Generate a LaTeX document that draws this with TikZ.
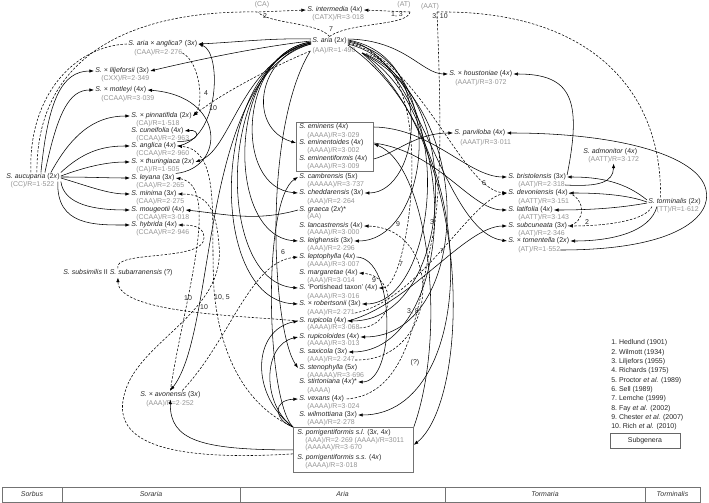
\documentclass[tikz,border=0pt]{standalone}
\usepackage{fontspec}
\setmainfont{Liberation Sans}
\usetikzlibrary{arrows.meta}
\newcommand{\plx}[1]{(#1\textit{x})}
\begin{document}
\begin{tikzpicture}[x=1bp,y=-1bp,>={Latex[length=4.6bp,width=3.4bp]},
  font=\fontsize{7}{8}\selectfont,line width=0.55bp,
  sp/.style={anchor=west,inner sep=1bp,text=black!85},
  sb/.style={anchor=west,inner sep=0pt,text=black!42},
  nb/.style={inner sep=0.5bp,text=black!85},
  gl/.style={inner sep=0.5bp,text=black!42},
  grp/.style={draw=black!55,line width=0.8bp,inner sep=0pt,anchor=north west},
  dsh/.style={dash pattern=on 2.4bp off 1.6bp}]
\useasboundingbox (0,0) rectangle (709,503);
% junctions
\coordinate (ca) at (258,12);
\coordinate (at) at (410,12);
\coordinate (aat) at (437,12);
\coordinate (ar) at (362,53);
% top
\node[sp] (int) at (306,10) {\textit{S. intermedia} \plx{4}};
\node[sb] (int-r) at (312,18) {(CATX)/R=3·018};
\node[sp] (ari) at (311,41) {\textit{S. aria} \plx{2}};
\node[sb,anchor=center] (ari-r) at (334,51) {(AA)/R=1·490};
% Soraria
\node[sp] (aan) at (127,44) {\textit{S. aria × anglica?} \plx{3}};
\node[sb] (aan-r) at (134,53) {(CAA)/R=2·276};
\node[sp] (lil) at (94,71) {\textit{S. × liljeforsii} \plx{3}};
\node[sb] (lil-r) at (101,79) {(CXX)/R=2·349};
\node[sp] (mot) at (94,90) {\textit{S. × motleyi} \plx{4}};
\node[sb] (mot-r) at (101,99) {(CCAA)/R=3·039};
\node[sp] (pin) at (130,116) {\textit{S. × pinnatifida} \plx{2}};
\node[sb] (pin-r) at (136,124) {(CA)/R=1·518};
\node[sp] (cun) at (130,131) {\textit{S. cuneifolia} \plx{4}};
\node[sb] (cun-r) at (136,139) {(CCAA)/R=2·963};
\node[sp] (ang) at (130,146) {\textit{S. anglica} \plx{4}};
\node[sb] (ang-r) at (136,154) {(CCAA)/R=2·960};
\node[sp] (thu) at (130,162) {\textit{S. × thuringiaca} \plx{2}};
\node[sb] (thu-r) at (136,170) {(CA)/R=1·505};
\node[sp] (auc) at (5,177) {\textit{S. aucuparia} \plx{2}};
\node[sb,anchor=center] (auc-r) at (32.5,185) {(CC)/R=1·522};
\node[sp] (ley) at (130,178) {\textit{S. leyana} \plx{3}};
\node[sb] (ley-r) at (136,186) {(CAA)/R=2·265};
\node[sp] (mini) at (130,194) {\textit{S. minima} \plx{3}};
\node[sb] (mini-r) at (136,202) {(CAA)/R=2·275};
\node[sp] (mou) at (130,210) {\textit{S. mougeotii} \plx{4}};
\node[sb] (mou-r) at (136,218) {(CCAA)/R=3·018};
\node[sp] (hyb) at (130,225) {\textit{S. hybrida} \plx{4}};
\node[sb] (hyb-r) at (136,233) {(CCAA)/R=2·946};
\node[sp] (subs) at (62,273) {\textit{S. subsimilis} II \textit{S. subarranensis} (?)};
\node[sp] (avo) at (139,395) {\textit{S. × avonensis} \plx{3}};
\node[sb] (avo-r) at (146,404) {(AAA)/R=2·252};
% Tormaria and Torminalis
\node[sp] (hou) at (448,74) {\textit{S. × houstoniae} \plx{4}};
\node[sb] (hou-r) at (455,83) {(AAAT)/R=3·072};
\node[sp] (par) at (453,133) {\textit{S. parviloba} \plx{4}};
\node[sb] (par-r) at (460,143) {(AAAT)/R=3·011};
\node[sp] (adm) at (582,152) {\textit{S. admonitor} \plx{4}};
\node[sb] (adm-r) at (588,160) {(AATT)/R=3·172};
\node[sp] (bri) at (507,177) {\textit{S. bristolensis} \plx{3}};
\node[sb] (bri-r) at (518,185) {(AAT)/R=2·318};
\node[sp] (dev) at (507,193) {\textit{S. devoniensis} \plx{4}};
\node[sb] (dev-r) at (518,202) {(AATT)/R=3·151};
\node[sp] (lat) at (507,210) {\textit{S. latifolia} \plx{4}};
\node[sb] (lat-r) at (518,218) {(AATT)/R=3·143};
\node[sp] (subc) at (507,226) {\textit{S. subcuneata} \plx{3}};
\node[sb] (subc-r) at (518,234) {(AAT)/R=2·346};
\node[sp] (tom) at (507,241) {\textit{S. × tomentella} \plx{2}};
\node[sb] (tom-r) at (518,250) {(AT)/R=1·552};
\node[sp] (tor) at (647,202) {\textit{S. torminalis} \plx{2}};
\node[sb,anchor=east] (tor-r) at (699,210) {(TT)/R=1·612};
% Aria
\node[grp,minimum width=77bp,minimum height=49bp] (box1) at (296,122) {};
\node[sp] (emi) at (298,127) {\textit{S. eminens} \plx{4}};
\node[sb] (emi-r) at (307,136) {(AAAA)/R=3·029};
\node[sp] (emt) at (298,143) {\textit{S. eminentoides} \plx{4}};
\node[sb] (emt-r) at (307,151) {(AAAA)/R=3·002};
\node[sp] (emf) at (298,159) {\textit{S. eminentiformis} \plx{4}};
\node[sb] (emf-r) at (307,167) {(AAAA)/R=3·009};
\node[sp] (cam) at (298,177) {\textit{S. cambrensis} \plx{5}};
\node[sb] (cam-r) at (307,185) {(AAAAA)/R=3·737};
\node[sp] (che) at (298,193) {\textit{S. cheddarensis} \plx{3}};
\node[sb] (che-r) at (307,202) {(AAA)/R=2·264};
\node[sp] (gra) at (298,210) {\textit{S. graeca} \plx{2}*};
\node[sb] (gra-r) at (307,217) {(AA)};
\node[sp] (lan) at (298,226) {\textit{S. lancastrensis} \plx{4}};
\node[sb] (lan-r) at (307,233) {(AAAA)/R=3·000};
\node[sp] (lei) at (298,241) {\textit{S. leighensis} \plx{3}};
\node[sb] (lei-r) at (307,249) {(AAA)/R=2·296};
\node[sp] (lep) at (298,257) {\textit{S. leptophylla} \plx{4}};
\node[sb] (lep-r) at (307,265) {(AAAA)/R=3·007};
\node[sp] (mar) at (298,273) {\textit{S. margaretae} \plx{4}};
\node[sb] (mar-r) at (307,281) {(AAA)/R=3·014};
\node[sp] (por) at (298,288) {\textit{S.} ‘Portishead taxon’ \plx{4}};
\node[sb] (por-r) at (307,297) {(AAAA)/R=3·016};
\node[sp] (rob) at (298,304) {\textit{S. × robertsonii} \plx{3}};
\node[sb] (rob-r) at (307,313) {(AAA)/R=2·271};
\node[sp] (rup) at (298,321) {\textit{S. rupicola} \plx{4}};
\node[sb] (rup-r) at (307,328) {(AAAA)/R=3·068};
\node[sp] (rpd) at (298,337) {\textit{S. rupicoloides} \plx{4}};
\node[sb] (rpd-r) at (307,344) {(AAAA)/R=3·013};
\node[sp] (sax) at (298,352) {\textit{S. saxicola} \plx{3}};
\node[sb] (sax-r) at (307,360) {(AAA)/R=2·247};
\node[sp] (ste) at (298,368) {\textit{S. stenophylla} \plx{5}};
\node[sb] (ste-r) at (307,376) {(AAAAA)/R=3·696};
\node[sp] (sti) at (298,382) {\textit{S. stirtoniana} \plx{4}*};
\node[sb] (sti-r) at (307,391) {(AAAA)};
\node[sp] (vex) at (298,399) {\textit{S. vexans} \plx{4}};
\node[sb] (vex-r) at (307,407) {(AAAA)/R=3·024};
\node[sp] (wil) at (298,415) {\textit{S. wilmottiana} \plx{3}};
\node[sb] (wil-r) at (307,423) {(AAA)/R=2·278};
\node[grp,minimum width=120bp,minimum height=45bp] (box2) at (293,427) {};
\node[sp] (pgl) at (296,433) {\textit{S. porrigentiformis s.l.} (3\textit{x}, 4\textit{x})};
\node[sb] (pgl-r) at (305,441) {(AAA)/R=2·269 (AAAA)/R=3011};
\node[sb] (pgl-q) at (305,448) {(AAAAA)/R=3·670};
\node[sp] (pgs) at (296,458) {\textit{S. porrigentiformis s.s.} \plx{4}};
\node[sb] (pgs-r) at (305,466) {(AAAA)/R=3·018};
% aucuparia
\draw[->] ([xshift=8bp]auc.north) .. controls (48,100) and (62,71) .. (lil.west);
\draw[->] ([xshift=12bp]auc.north) .. controls (58,110) and (70,90) .. (mot.west);
\draw[->] ([xshift=18bp]auc.north) .. controls (75,128) and (100,116) .. (pin.west);
\draw[->] (auc.north east) .. controls (85,150) and (105,146) .. (ang.west);
\draw[->] ([yshift=1bp]auc.east) .. controls (88,166) and (108,162) .. (thu.west);
\draw[->] (auc.east) .. controls (90,177) and (108,178) .. (ley.west);
\draw[->] ([yshift=-1bp]auc.east) .. controls (88,186) and (108,194) .. (mini.west);
\draw[->] (auc.south east) .. controls (64,205) and (95,210) .. (mou.west);
\draw[->] ([xshift=-3bp]auc.south east) .. controls (56,226) and (95,225) .. (hyb.west);
\draw[->,dsh] ([xshift=4bp]auc.north) .. controls (36,50) and (140,10) .. (ca) -- (int.west);
\draw[dsh] ([xshift=-2bp]auc.north) .. controls (28,95) and (75,46) .. (aan.west);
% aria and the junctions above it
\draw[dsh] (ari.north) .. controls (318,22) and (268,24) .. (ca);
\draw[dsh] (ari.north) .. controls (350,22) and (408,26) .. (at);
\draw[->,dsh] (at) -- (int.east);
\draw[dsh] (aat) .. controls (590,10) and (662,90) .. ([xshift=-14bp]tor.north);
\draw[dsh] (aat) .. controls (441,110) and (442,190) .. (432,240) .. controls (418,300) and (412,396) .. (vex.east);
% aria to Soraria
\draw[->] ([yshift=2bp]ari.west) .. controls (270,38) and (240,42) .. (aan.east);
\draw[->] (ari.west) .. controls (265,46) and (205,58) .. (lil.east);
\draw[->] ([yshift=-2bp]ari.west) .. controls (240,62) and (232,150) .. (thu.east);
\draw[->,dsh] ([xshift=-2bp]ari-r.west) .. controls (265,70) and (218,96) .. (pin.east);
\draw[->,dsh] (aan-r.east) .. controls (200,62) and (204,104) .. (pin.east);
\draw[->] (ley.north east) .. controls (226,168) and (226,96) .. (mot.east);
\draw[->] (ang.east) .. controls (220,140) and (222,52) .. (aan.east);
\draw[->] (ang.north east) .. controls (202,142) and (200,129) .. (cun.east);
\draw[->] (gra.west) .. controls (255,222) and (225,214) .. (mou.east);
% aria to Aria, left side
\draw[->] ([yshift=-3bp]ari.west) .. controls (258,55) and (246,128) .. (box1.west |- emt.west);
\draw[->] ([yshift=-1bp]ari.west) .. controls (240,52) and (232,188) .. (che.west);
\draw[->] ([yshift=-1bp]ari.west) .. controls (228,54) and (224,236) .. (lei.west);
\draw[->] ([yshift=-2bp]ari.west) .. controls (218,58) and (214,282) .. (por.west);
\draw[->] ([yshift=-2bp]ari.west) .. controls (210,62) and (206,300) .. (rob.west);
\draw[->] ([xshift=-2bp]ari-r.west) .. controls (262,130) and (272,330) .. (ste.west);
\draw[->] ([yshift=-3bp]ari.west) .. controls (198,76) and (218,330) .. (avo.north);
% porrigentiformis
\draw[->] (box2.north west) .. controls (266,400) and (262,200) .. (cam.west);
\draw[->] (box2.north west) .. controls (262,405) and (262,345) .. (rpd.west);
\draw[->] (box2.north west) .. controls (274,420) and (272,400) .. (vex.west);
\draw[->] (box2.north west) .. controls (250,395) and (252,330) .. (rup.west);
\draw[->] (box2.west) .. controls (200,450) and (170,440) .. (avo.south);
\draw[->,dsh] ([yshift=-4bp]box2.west) .. controls (160,462) and (110,440) .. (125,392) .. controls (140,340) and (226,312) .. (219,245) .. controls (216,205) and (205,194) .. (mini.east);
\draw[->,dsh] (box2.north west) .. controls (234,400) and (218,335) .. (214,290) .. controls (210,220) and (222,150) .. (ang.east);
\draw[->,dsh] (rup.west) .. controls (250,316) and (118,314) .. (subs.south);
\draw[->,dsh] (avo.north) .. controls (184,300) and (222,185) .. (ley.east);
\draw[->,dsh] (subs.north) .. controls (112,250) and (204,262) .. (204,238) .. controls (204,228) and (196,225) .. (hyb.east);
\draw[->,dsh] ([xshift=12bp]avo.north) .. controls (230,340) and (250,262) .. (lep.west);
% eminens group
\draw[->] (box1.east |- emi.east) .. controls (432,128) and (468,177) .. (bri.west);
\draw[->] (box1.east |- emf.east) .. controls (398,152) and (416,133) .. (par.west);
\draw[->] (box1.east |- emt.east) .. controls (440,152) and (470,210) .. (lat.west);
\draw[->] (box2.north east) .. controls (448,330) and (428,165) .. ([yshift=3bp]box1.east);
\draw[->] (lep.east) .. controls (396,258) and (396,382) .. (sti.east);
% aria to the right
\draw[->] ([yshift=2bp]ari.east) .. controls (405,40) and (422,74) .. (hou.west);
\draw[->] (ari.east) .. controls (418,50) and (442,232) .. (tom.west);
\draw[->,dsh] ([yshift=-2bp]ari.east) .. controls (420,58) and (462,190) .. (dev.west);
\draw[->,dsh] (ar) .. controls (440,62) and (410,288) .. (por.east);
\draw[->] ([yshift=1bp]ari.east) .. controls (438,56) and (420,193) .. (che.east);
\draw[->] ([yshift=-1bp]ari.east) .. controls (452,62) and (430,241) .. (lei.east);
\draw[->] ([yshift=-3bp]ari.east) .. controls (462,72) and (440,304) .. (rob.east);
\draw[->] (ar) .. controls (468,90) and (455,321) .. (rup.east);
\draw[->] (ar) .. controls (480,110) and (470,337) .. (rpd.east);
\draw[->] (ar) .. controls (470,120) and (450,352) .. (sax.east);
\draw[->] ([yshift=-4bp]ari.east) .. controls (485,140) and (480,415) .. (wil.east);
\draw[->] (ar) .. controls (475,150) and (470,400) .. ([yshift=5bp]box2.east);
\draw[->,dsh] (rob-r.east) .. controls (420,300) and (470,200) .. (dev.west);
\draw[->,dsh] (sax-r.east) .. controls (440,362) and (446,228) .. (lan.east);
\draw[->,dsh] (rup-r.east) .. controls (396,326) and (398,276) .. (mar.east);
\draw[->] (rup.east) .. controls (410,305) and (465,226) .. (subc.west);
% torminalis
\draw[->] ([yshift=2bp]tor.west) .. controls (625,182) and (600,177) .. (bri.east);
\draw[->] (tor.west) .. controls (628,195) and (600,193) .. (dev.east);
\draw[->] ([yshift=-1bp]tor.west) .. controls (620,208) and (590,210) .. (lat.east);
\draw[->,dsh] ([xshift=5bp]tor.south west) .. controls (645,222) and (600,226) .. (subc.east);
\draw[->] ([xshift=10bp]tor.south west) .. controls (650,232) and (612,241) .. (tom.east);
\draw[dsh] (dev.east) .. controls (586,200) and (586,222) .. (subc.east);
\draw[->] (bri-r.east) .. controls (600,187) and (613,182) .. (adm-r.south);
\draw[->] ([yshift=2bp]bri.east) .. controls (582,100) and (572,74) .. (hou.east);
\draw[->] (tom-r.east) .. controls (680,250) and (712,215) .. (706,190) .. controls (699,156) and (620,133) .. (par.east);
% reference numbers
\node[gl] (l-ca) at (262,5) {(CA)};
\node[nb] (l1) at (265,16) {2};
\node[nb] (l2) at (331,29) {7};
\node[gl] (l-at) at (404,5) {(AT)};
\node[nb] (l3) at (397,15) {1, 3};
\node[gl] (l-aat) at (430,7) {(AAT)};
\node[nb] (l4) at (440,17) {3, 10};
\node[nb] (l5) at (206,93) {4};
\node[nb] (l6) at (213,108) {10};
\node[nb] (l7) at (188,298) {10};
\node[nb] (l8) at (204,307) {10};
\node[nb] (l9) at (222,298) {10, 5};
\node[nb] (l10) at (283,252) {6};
\node[nb] (l11) at (398,224) {9};
\node[nb] (l12) at (432,222) {3};
\node[nb] (l13) at (442,251) {7};
\node[nb] (l14) at (484,183) {6};
\node[nb] (l15) at (401,264) {7};
\node[nb] (l16) at (374,280) {9};
\node[nb] (l17) at (413,312) {3, 8};
\node[nb] (l18) at (415,363) {(?)};
\node[nb] (l19) at (587,222) {2};
% legend
\foreach \i/\t in {1/Hedlund (1901),2/Wilmott (1934),3/Liljefors (1955),4/Richards (1975),
  5/Proctor \textit{et al.} (1989),6/Sell (1989),7/Lemche (1999),8/Fay \textit{et al.} (2002),
  9/Chester \textit{et al.} (2007),10/Rich \textit{et al.} (2010)}
  \node[anchor=west,inner sep=0pt,text=black!85] (ref\i) at (611,{343+(\i-1)*9.35}) {\i.\ \t};
\node[draw=black!60,line width=0.6bp,minimum width=70bp,minimum height=15bp,text=black!85] (subg) at (645,440.5) {Subgenera};
% subgenera bar
\foreach \a/\b/\t in {2/62/Sorbus,62/240/Soraria,240/445/Aria,445/645/Tormaria,645/700/Torminalis}{
  \draw[black!55,line width=0.7bp] (\a,487) rectangle (\b,502);
  \node[text=black!80] (bar-\t) at ({(\a+\b)/2},494.5) {\textit{\t}};
}
\end{tikzpicture}
\end{document}
